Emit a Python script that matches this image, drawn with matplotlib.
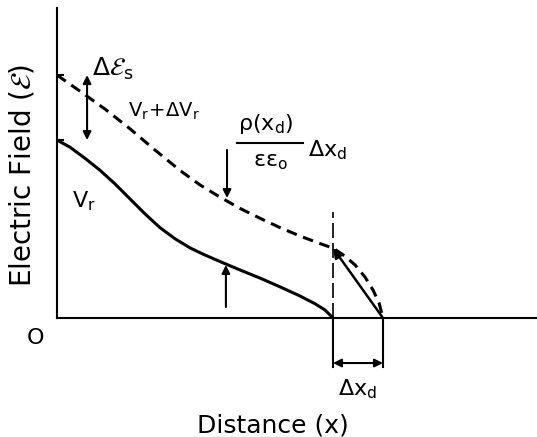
import matplotlib.pyplot as plt

plt.rcParams['mathtext.default'] = 'regular'
plt.rcParams['font.family'] = ['DejaVu Sans']

# distance in units of the depletion edge x_d, field in units of E(0) at V_r
x_vr = [0.0, 0.047, 0.101, 0.156, 0.210, 0.264, 0.319, 0.373, 0.428,
        0.482, 0.536, 0.591, 0.663, 0.736, 0.808, 0.880, 0.935, 0.971, 1.0]
e_vr = [1.0, 0.960, 0.898, 0.830, 0.754, 0.670, 0.585, 0.508, 0.445,
        0.394, 0.354, 0.317, 0.270, 0.224, 0.175, 0.124, 0.080, 0.045, 0.0]

x_vr_dv = [0.0, 0.083, 0.174, 0.264, 0.355, 0.446, 0.518, 0.591, 0.663,
           0.736, 0.808, 0.880, 0.953, 1.0, 1.043, 1.080, 1.116, 1.145,
           1.167, 1.181]
e_vr_dv = [1.365, 1.275, 1.174, 1.064, 0.944, 0.829, 0.748, 0.679, 0.616,
           0.560, 0.508, 0.461, 0.418, 0.393, 0.348, 0.298, 0.230, 0.157,
           0.084, 0.0]

x_d = 1.0
dx_d = 0.181
e_s = 1.0        # surface field at V_r
e_s_dv = 1.365   # surface field at V_r + dV_r
e_edge = 0.393   # field at x_d for V_r + dV_r

fig = plt.figure(figsize=(5.37, 4.37), dpi=100)
ax = fig.add_axes([0.1061, 0.2723, 0.8939, 0.7094])
ax.set_xlim(0, 1.739)
ax.set_ylim(0, 1.742)
for side in ['top', 'right']:
    ax.spines[side].set_visible(False)
for side in ['left', 'bottom']:
    ax.spines[side].set_linewidth(1.5)
ax.set_xticks([])
ax.set_yticks([e_s, e_s_dv])
ax.tick_params(axis='y', direction='in', length=5, width=1.5, labelleft=False)

lw = 2.2
ax.plot(x_vr, e_vr, color='k', lw=lw, solid_capstyle='round',
        solid_joinstyle='round')
ax.plot(x_vr_dv, e_vr_dv, color='k', lw=lw, dashes=(3.5, 2.2))

# straight field step across dx_d
ax.annotate('', xy=(x_d, e_edge), xytext=(x_d + dx_d, 0),
            arrowprops=dict(arrowstyle='-|>', color='k', lw=1.8,
                            mutation_scale=14, shrinkA=0, shrinkB=0))

# depletion edge marker and dx_d bracket
ax.plot([x_d, x_d], [0, 0.596], color='k', lw=1.2, dashes=(9, 3))
low = -0.275
ax.plot([x_d, x_d], [0, low], color='k', lw=1.5, clip_on=False)
ax.plot([x_d + dx_d, x_d + dx_d], [0, low], color='k', lw=1.5, clip_on=False)
ax.annotate('', xy=(x_d, -0.253), xytext=(x_d + dx_d, -0.253),
            arrowprops=dict(arrowstyle='<|-|>', color='k', lw=1.5,
                            mutation_scale=12, shrinkA=0, shrinkB=0),
            annotation_clip=False)
ax.text(x_d + dx_d / 2, -0.40, r'$\Delta x_d$', fontsize=16,
        ha='center', va='center')

# change of surface field
ax.annotate('', xy=(0.109, e_s_dv), xytext=(0.109, e_s),
            arrowprops=dict(arrowstyle='<|-|>', color='k', lw=1.5,
                            mutation_scale=12, shrinkA=0, shrinkB=0))
ax.text(0.127, 1.40, r'$\Delta\mathcal{E}_s$', fontsize=18,
        ha='left', va='center')

ax.text(0.257, 1.163, r'$V_r\!+\!\Delta V_r$', fontsize=14,
        ha='left', va='center')
ax.text(0.054, 0.657, r'$V_r$', fontsize=16, ha='left', va='center')

# charge added at the depletion edge
ax.annotate('', xy=(0.616, 0.674), xytext=(0.616, 0.944),
            arrowprops=dict(arrowstyle='-|>', color='k', lw=1.5,
                            mutation_scale=12, shrinkA=0, shrinkB=0))
ax.annotate('', xy=(0.612, 0.298), xytext=(0.612, 0.062),
            arrowprops=dict(arrowstyle='-|>', color='k', lw=1.5,
                            mutation_scale=12, shrinkA=0, shrinkB=0))
ax.text(0.656, 1.09, r'$\rho(x_d)$', fontsize=16, ha='left', va='center')
ax.plot([0.652, 0.891], [0.983, 0.983], color='k', lw=1.5)
ax.text(0.772, 0.876, r'$\varepsilon\varepsilon_o$', fontsize=16,
        ha='center', va='center')
ax.text(0.909, 0.944, r'$\Delta x_d$', fontsize=16, ha='left', va='center')

fig.text(273 / 537, 1 - 432 / 437, 'Distance (x)', fontsize=18,
         ha='center', va='baseline')
fig.text(22 / 537, 1 - 175 / 437, r'Electric Field ($\mathcal{E}$)',
         fontsize=20, rotation=90, ha='center', va='center')
fig.text(35 / 537, 1 - 338 / 437, 'O', fontsize=16, ha='center', va='center')

fig.savefig('out.png', dpi=100)
